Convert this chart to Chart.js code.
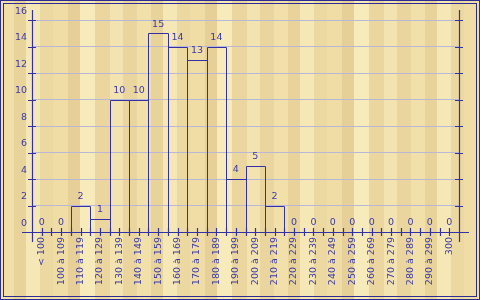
<!DOCTYPE html>
<html>
<head>
<meta charset="utf-8">
<script src="https://cdn.jsdelivr.net/npm/chart.js@4"></script>
<style>
  html, body { margin: 0; padding: 0; background: #efdca5; }
  #chart {
    display: block;
    background:
      repeating-linear-gradient(90deg,
        #f2e0aa 0 14px, #e8d39b 14px 26px, #f6e7b6 26px 40px, #ecd9a2 40px 53px,
        #f0dda6 53px 68px, #e6d097 68px 80px, #f7eabb 80px 95px, #ebd6a0 95px 110px,
        #f3e3b0 110px 123px, #e9d59d 123px 137px);
  }
</style>
</head>
<body>
<canvas id="chart" width="480" height="300"></canvas>
<script>
const categories = ['< 100', '100 à 109', '110 à 119', '120 à 129', '130 à 139', '140 à 149',
  '150 à 159', '160 à 169', '170 à 179', '180 à 189', '190 à 199', '200 à 209', '210 à 219',
  '220 à 229', '230 à 239', '240 à 249', '250 à 259', '260 à 269', '270 à 279', '280 à 289',
  '290 à 299', '300'];
const counts = [0, 0, 2, 1, 10, 10, 15, 14, 13, 14, 4, 5, 2, 0, 0, 0, 0, 0, 0, 0, 0, 0];
const yTickLabels = [0, 2, 4, 6, 8, 10, 12, 14, 16];

const LINE = '#3232a6';
const TEXT = '#3a3aaa';
const GRID = '#b8b8d6';
const FONT = { family: 'DejaVu Sans', size: 9.5 };

// bar outlines (shared edges drawn once), axes with overhang, ticks, value labels, frame
const decorations = {
  id: 'decorations',
  afterDatasetsDraw(chart) {
    const ctx = chart.ctx;
    const { left, right, top, bottom } = chart.chartArea;
    const x = chart.scales.x, y = chart.scales.y;
    const over = 10, tk = 4;
    const r = v => Math.round(v) + 0.5;
    const bars = chart.getDatasetMeta(0).data;
    ctx.save();
    ctx.strokeStyle = LINE;

    ctx.lineWidth = 1;
    ctx.beginPath();
    bars.forEach((bar, i) => {
      if (!counts[i]) return;
      const x0 = r(bar.x - bar.width / 2), x1 = r(bar.x + bar.width / 2);
      const y0 = r(bar.y), y1 = r(bar.base);
      ctx.rect(x0, y0, x1 - x0, y1 - y0);
    });
    ctx.stroke();

    ctx.lineWidth = 1.2;
    ctx.beginPath();
    ctx.moveTo(r(left), top - over); ctx.lineTo(r(left), bottom + over);
    ctx.moveTo(r(right), top - over); ctx.lineTo(r(right), bottom + over);
    ctx.moveTo(left - over, r(bottom)); ctx.lineTo(right + over, r(bottom));
    yTickLabels.forEach(v => {
      if (v === 0) return;
      const py = r(y.getPixelForValue(v));
      ctx.moveTo(left - tk, py); ctx.lineTo(left + tk, py);
      ctx.moveTo(right - tk, py); ctx.lineTo(right + tk, py);
    });
    const half = (x.getPixelForValue(1) - x.getPixelForValue(0)) / 2;
    categories.forEach((c, i) => {
      const px = x.getPixelForValue(i);
      ctx.moveTo(r(px), bottom - tk); ctx.lineTo(r(px), bottom + tk);
      if (i > 0) { ctx.moveTo(r(px - half), bottom - tk); ctx.lineTo(r(px - half), bottom + tk); }
    });
    ctx.stroke();

    ctx.fillStyle = TEXT;
    ctx.font = FONT.size + 'px ' + FONT.family;
    ctx.textAlign = 'center';
    ctx.textBaseline = 'middle';
    bars.forEach((bar, i) => {
      ctx.fillText(String(counts[i]), bar.x, bar.y - 9);
    });

    ctx.lineWidth = 1;
    ctx.strokeStyle = '#2c2c92';
    ctx.strokeRect(0.5, 0.5, chart.width - 1, chart.height - 1);
    ctx.strokeRect(3.5, 3.5, chart.width - 7, chart.height - 7);
    ctx.restore();
  }
};

new Chart(document.getElementById('chart'), {
  type: 'bar',
  data: {
    labels: categories,
    datasets: [{
      data: counts,
      backgroundColor: 'rgba(0,0,0,0)',
      borderWidth: 0,
      barPercentage: 1,
      categoryPercentage: 1
    }]
  },
  options: {
    responsive: false,
    animation: false,
    devicePixelRatio: 1,
    layout: { padding: { top: 20, right: 21, left: 0, bottom: 0 } },
    plugins: { legend: { display: false }, tooltip: { enabled: false } },
    scales: {
      x: {
        offset: true,
        grid: { display: false, drawTicks: false },
        border: { display: false },
        ticks: { color: TEXT, font: FONT, minRotation: 90, maxRotation: 90, autoSkip: false, padding: 5 },
        afterFit(scale) { scale.height = 68; }
      },
      y: {
        min: 0,
        max: 16,
        grid: { color: GRID, drawTicks: false },
        border: { display: false },
        ticks: { stepSize: 2, color: TEXT, font: FONT, padding: 5, labelOffset: -8.5 },
        afterFit(scale) { scale.width = 32; }
      }
    }
  },
  plugins: [decorations]
});
</script>
</body>
</html>
